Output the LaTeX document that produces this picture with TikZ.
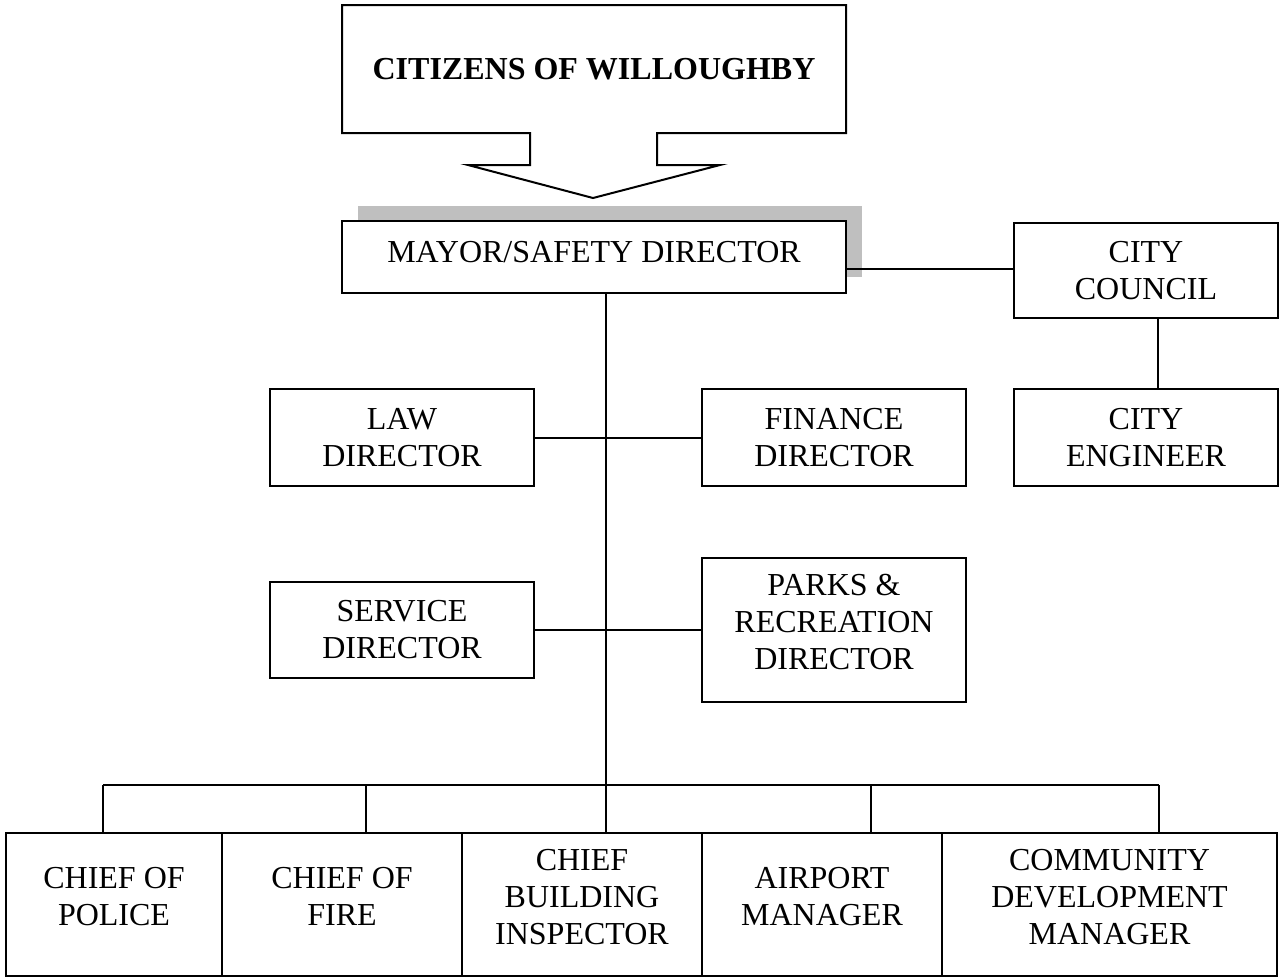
\documentclass[tikz,border=0pt]{standalone}
\usepackage{fontspec}
\setmainfont{Liberation Serif}
\begin{document}
\begin{tikzpicture}[x=1pt,y=-1pt,
  lw/.style={line width=2pt},
  orgbox/.style={draw,lw,fill=white,inner sep=0pt,align=center,font=\fontsize{32}{37}\selectfont},
  conn/.style={lw}]
\useasboundingbox (0,0) rectangle (1280,978);
% callout
\draw[lw,line join=miter] (342,5) -- (846,5) -- (846,133) -- (657,133) -- (657,165) -- (720,165)
  -- (593,198) -- (468,165) -- (530,165) -- (530,133) -- (342,133) -- cycle;
\node[font=\fontsize{32}{37}\selectfont\bfseries] (citizens) at (594,69) {CITIZENS OF WILLOUGHBY};
% shadow
\fill[black!25] (358,206) rectangle (862,277);
% connector over shadow
\node[orgbox,minimum width=504,minimum height=72,text depth=11pt] (mayor) at (594,257) {MAYOR/SAFETY DIRECTOR};
\node[orgbox,minimum width=264,minimum height=95] (council) at (1146,270.5) {CITY\\COUNCIL};
\node[orgbox,minimum width=264,minimum height=97] (engineer) at (1146,437.5) {CITY\\ENGINEER};
\node[orgbox,minimum width=264,minimum height=97] (law) at (402,437.5) {LAW\\DIRECTOR};
\node[orgbox,minimum width=264,minimum height=97] (finance) at (834,437.5) {FINANCE\\DIRECTOR};
\node[orgbox,minimum width=264,minimum height=96] (service) at (402,630) {SERVICE\\DIRECTOR};
\node[orgbox,minimum width=264,minimum height=144,text depth=17pt] (parks) at (834,630) {PARKS \&\\RECREATION\\DIRECTOR};
\node[orgbox,minimum width=216,minimum height=143,text depth=17pt] (police) at (114,904.5) {CHIEF OF\\POLICE};
\node[orgbox,minimum width=240,minimum height=143,text depth=17pt] (fire) at (342,904.5) {CHIEF OF\\FIRE};
\node[orgbox,minimum width=240,minimum height=143,text depth=15pt] (building) at (582,904.5) {CHIEF\\BUILDING\\INSPECTOR};
\node[orgbox,minimum width=240,minimum height=143,text depth=17pt] (airport) at (822,904.5) {AIRPORT\\MANAGER};
\node[orgbox,minimum width=335,minimum height=143,text depth=15pt] (community) at (1109.5,904.5) {COMMUNITY\\DEVELOPMENT\\MANAGER};
% connectors
\coordinate (busc) at (606,785);
\coordinate (busl) at (103,785);
\coordinate (busr) at (1159,785);
\draw[conn] (mayor.east |- 0,269) -- (council.west |- 0,269);
\draw[conn] (council.south -| 1158,0) -- (engineer.north -| 1158,0);
\draw[conn] (mayor.south -| busc) -- (busc);
\draw[conn] (law.east) -- (finance.west);
\draw[conn] (service.east) -- (parks.west);
\draw[conn] (busl) -- (busr);
\draw[conn] (busl) -- (police.north -| busl);
\draw[conn] (366,785) -- (fire.north -| 366,0);
\draw[conn] (busc) -- (building.north -| busc);
\draw[conn] (871,785) -- (airport.north -| 871,0);
\draw[conn] (busr) -- (community.north -| busr);
\end{tikzpicture}
\end{document}
